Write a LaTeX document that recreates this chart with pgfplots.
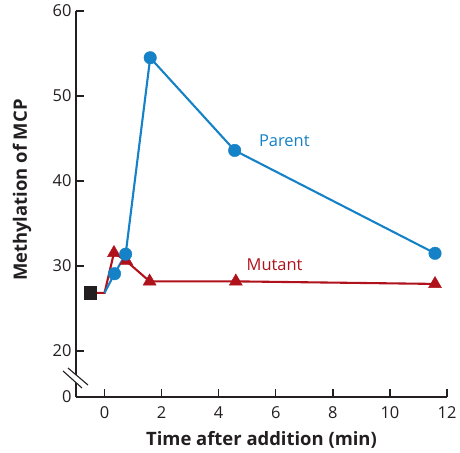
\documentclass[border=0pt]{standalone}
\usepackage{fontspec}
\setmainfont{Open Sans}
\usepackage{pgfplots}
\pgfplotsset{compat=1.18}
\definecolor{parentblue}{HTML}{1581C6}
\definecolor{mutantred}{HTML}{B0121C}
\definecolor{sqblack}{HTML}{231F20}
\begin{document}
\begin{tikzpicture}
\begin{axis}[
  scale only axis,
  width=371bp, height=386bp,
  xmin=-1, xmax=12, ymin=14.6, ymax=60,
  axis x line*=bottom, axis y line*=left,
  axis line style={line width=1.4pt, sqblack, -},
  xtick={0,2,4,6,8,10,12},
  ytick={14.6,20,30,40,50,60},
  yticklabels={0,20,30,40,50,60},
  tick align=inside,
  major tick length=8bp,
  tick style={line width=1.4pt, sqblack},
  tick label style={font=\fontsize{16.5}{19}\selectfont, text=sqblack},
  xticklabel style={anchor=center, yshift=-16bp},
  yticklabel style={anchor=east, xshift=-1bp},
  /pgf/number format/assume math mode=true,
  xlabel={Time after addition (min)},
  ylabel={Methylation of MCP},
  label style={font=\fontsize{18.5}{21}\selectfont\bfseries, text=sqblack},
  xlabel style={at={(axis description cs:0.5,0)}, anchor=center, yshift=-43bp},
  ylabel style={at={(axis description cs:-0.1456,0.536)}, anchor=center},
  clip=false,
]
% red line
\addplot[mutantred, line width=2.1pt, no marks] coordinates {
  (-0.5,26.85) (0,26.85) (0.33,31.55) (0.76,30.6) (1.58,28.2) (4.6,28.2) (11.58,27.9)};
\addplot[mutantred, only marks, mark=triangle*, mark size=7.5pt] coordinates {
  (0.33,31.55) (0.76,30.6) (1.58,28.2) (4.6,28.2) (11.58,27.9)};
% blue line
\addplot[parentblue, line width=2.1pt, no marks] coordinates {
  (0,26.85) (0.35,29.1) (0.74,31.4) (1.6,54.5) (4.56,43.6) (11.58,31.5)};
\addplot[parentblue, only marks, mark=*, mark size=6.3pt] coordinates {
  (0.35,29.1) (0.74,31.4) (1.6,54.5) (4.56,43.6) (11.58,31.5)};
% square
\addplot[sqblack, only marks, mark=square*, mark size=6.3pt] coordinates {(-0.5,26.85)};
\node[parentblue, font=\fontsize{16.5}{19}\selectfont] at (axis cs:6.3,44.8) {Parent};
\node[mutantred, font=\fontsize{16.5}{19}\selectfont] at (axis cs:5.96,30.2) {Mutant};
% axis break
\fill[white] (axis cs:-1.28,18.01) -- (axis cs:-0.58,16.01) -- (axis cs:-0.79,15.66) -- (axis cs:-1.455,17.66) -- cycle;
\draw[line width=1.1pt, sqblack] (axis cs:-1.28,18.01) -- (axis cs:-0.58,16.01);
\draw[line width=1.1pt, sqblack] (axis cs:-1.455,17.66) -- (axis cs:-0.79,15.66);
% fix bounding box to reference margins
\path (rel axis cs:0,0) ++(-76bp,-56bp) coordinate (bbA);
\path (rel axis cs:1,1) ++(13bp,11bp) coordinate (bbB);
\end{axis}
\useasboundingbox (bbA) rectangle (bbB);
\end{tikzpicture}
\end{document}
